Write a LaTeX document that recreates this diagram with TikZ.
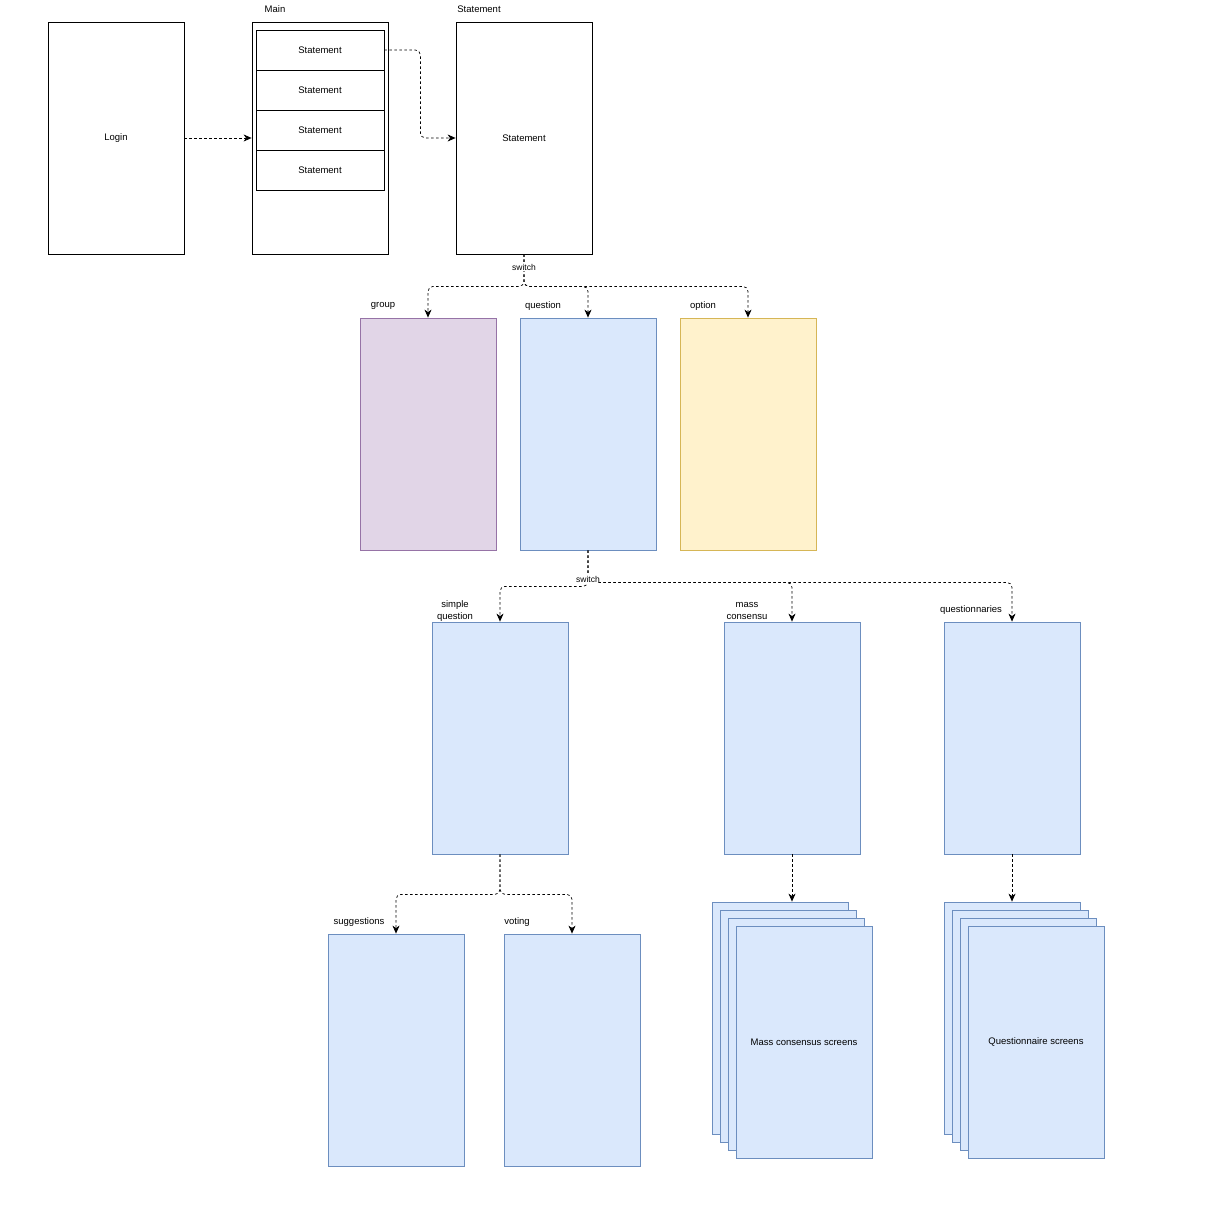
\documentclass[tikz,border=0pt]{standalone}
\usepackage{fontspec}
\setmainfont{Liberation Sans}
\usetikzlibrary{arrows.meta}
\definecolor{bfill}{HTML}{DAE8FC}\definecolor{bdraw}{HTML}{6C8EBF}
\definecolor{pfill}{HTML}{E1D5E7}\definecolor{pdraw}{HTML}{9673A6}
\definecolor{yfill}{HTML}{FFF2CC}\definecolor{ydraw}{HTML}{D6B656}
\tikzset{
  screen/.style={draw=black,fill=white,line width=0.8pt,minimum width=136pt,minimum height=232pt,inner sep=0pt,font=\fontsize{9.5}{11}\selectfont},
  rowbox/.style={draw=black,fill=white,line width=0.8pt,minimum width=128pt,minimum height=40pt,inner sep=0pt,font=\fontsize{9.5}{11}\selectfont},
  bluebox/.style={screen,fill=bfill,draw=bdraw},
  purplebox/.style={screen,fill=pfill,draw=pdraw},
  yellowbox/.style={screen,fill=yfill,draw=ydraw},
  lbl/.style={inner sep=1pt,font=\fontsize{9.5}{11}\selectfont,align=center},
  elbl/.style={fill=white,inner sep=1pt,font=\fontsize{8.5}{10}\selectfont},
  edge/.style={draw=black,line width=0.7pt,dash pattern=on 2.5pt off 2.5pt,rounded corners=5pt,-{Stealth[length=8pt,width=7pt,inset=2.5pt]}},
}
\begin{document}
\begin{tikzpicture}[x=1pt,y=-1pt]
\useasboundingbox[fill=white] (0,0) rectangle (1208,1225);
% top row
\node[screen] (login) at (116,138) {Login};
\node[screen] (main) at (320,138) {};
\node[rowbox] (r1) at (320,50) {Statement};
\node[rowbox] (r2) at (320,90) {Statement};
\node[rowbox] (r3) at (320,130) {Statement};
\node[rowbox] (r4) at (320,170) {Statement};
\node[screen] (stmt) at (524,138) {Statement};
\node[lbl] (lmain) at (275,9) {Main};
\node[lbl] (lstmt) at (479,9) {Statement};
% second row
\node[purplebox] (group) at (428,434) {};
\node[bluebox] (question) at (588,434) {};
\node[yellowbox] (option) at (748,434) {};
\node[lbl] (lgroup) at (383,306) {group};
\node[lbl] (lquestion) at (543,306) {question};
\node[lbl] (loption) at (703,306) {option};
% third row
\node[bluebox] (simple) at (500,738) {};
\node[bluebox] (mass) at (792,738) {};
\node[bluebox] (quest) at (1012,738) {};
\node[lbl,font=\fontsize{9.5}{12}\selectfont] (lsimple) at (455,611) {simple\\question};
\node[lbl,font=\fontsize{9.5}{12}\selectfont] (lmass) at (747,611) {mass\\consensu};
\node[lbl] (lquest) at (971,610) {questionnaries};
% fourth row
\node[bluebox] (sugg) at (396,1050) {};
\node[bluebox] (voting) at (572,1050) {};
\node[lbl] (lsugg) at (359,922) {suggestions};
\node[lbl] (lvoting) at (517,922) {voting};
% stacks
\node[bluebox] (m1) at (780,1018) {};
\node[bluebox] (m2) at (788,1026) {};
\node[bluebox] (m3) at (796,1034) {};
\node[bluebox] (m4) at (804,1042) {Mass consensus screens};
\node[bluebox] (q1) at (1012,1018) {};
\node[bluebox] (q2) at (1020,1026) {};
\node[bluebox] (q3) at (1028,1034) {};
\node[bluebox] (q4) at (1036,1042) {Questionnaire screens};
% edges
\draw[edge] (login.east) -- (main.west);
\draw[edge] (r1.east) -- ++(36,0) |- (stmt.west);
\draw[edge] (stmt.south) -- ++(0,32) -| (group.north);
\draw[edge] (stmt.south) -- ++(0,32) -| (question.north);
\draw[edge] (stmt.south) -- node[elbl,pos=0.4] {switch} ++(0,32) -| (option.north);
\draw[edge] (question.south) -- ++(0,36) -| (simple.north);
\draw[edge] (question.south) -- ++(0,32) -| (quest.north);
\draw[edge] (question.south) -- node[elbl,pos=0.9] {switch} ++(0,32) -| (mass.north);
\draw[edge] (simple.south) -- ++(0,40) -| (sugg.north);
\draw[edge] (simple.south) -- ++(0,40) -| (voting.north);
\draw[edge] (mass.south) -- (mass.south |- m1.north);
\draw[edge] (quest.south) -- (q1.north);
\end{tikzpicture}
\end{document}
